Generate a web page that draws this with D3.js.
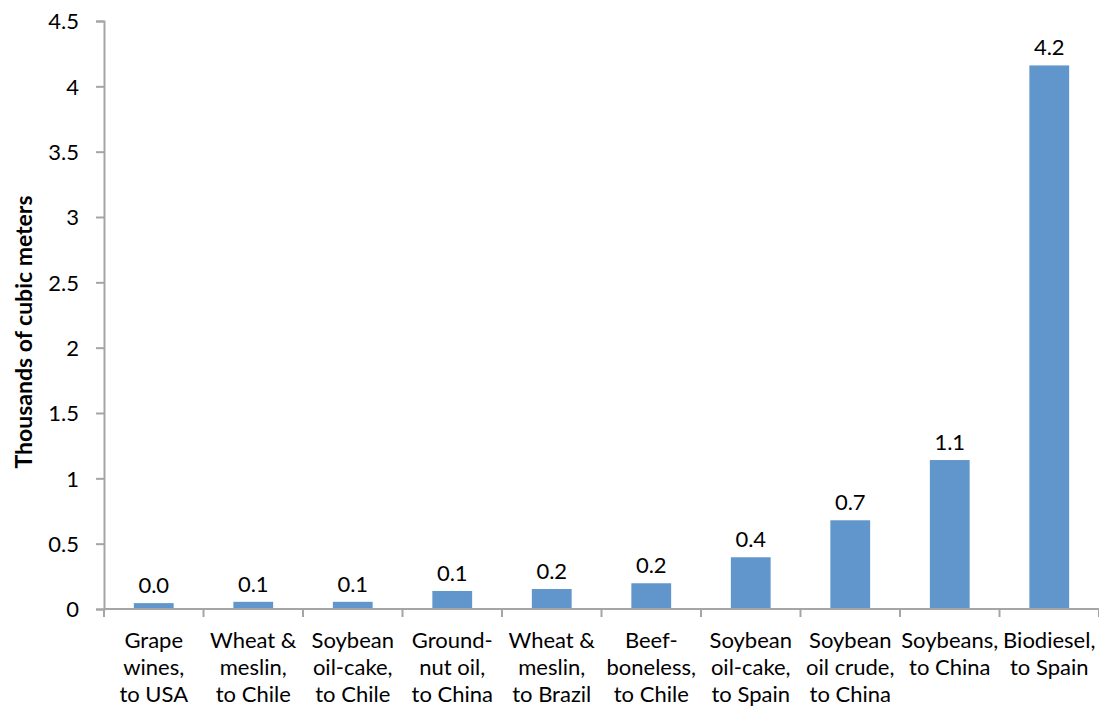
<!DOCTYPE html>
<html>
<head>
<meta charset="utf-8">
<script src="https://cdn.jsdelivr.net/npm/d3@7"></script>
<style>
  body { margin: 0; background: #fff; }
  text { font-family: Lato, "Open Sans", sans-serif; fill: #000; }
</style>
</head>
<body>
<div id="chart"></div>
<script>
// categories as shown under the bars (one entry per line)
var categories = [
  ['Grape', 'wines,', 'to USA'],
  ['Wheat &', 'meslin,', 'to Chile'],
  ['Soybean', 'oil-cake,', 'to Chile'],
  ['Ground-', 'nut oil,', 'to China'],
  ['Wheat &', 'meslin,', 'to Brazil'],
  ['Beef-', 'boneless,', 'to Chile'],
  ['Soybean', 'oil-cake,', 'to Spain'],
  ['Soybean', 'oil crude,', 'to China'],
  ['Soybeans,', 'to China'],
  ['Biodiesel,', 'to Spain']
];
var values = [0.045, 0.055, 0.055, 0.138, 0.153, 0.197, 0.396, 0.679, 1.14, 4.16];
var yTicks = [0, 0.5, 1, 1.5, 2, 2.5, 3, 3.5, 4, 4.5];
var yTitle = 'Thousands of cubic meters';

var width = 1099, height = 707;
var margin = {left: 104, right: 0, top: 21, bottom: 98};
var innerW = width - margin.left - margin.right;
var innerH = height - margin.top - margin.bottom;

var svg = d3.select('#chart').append('svg')
  .attr('width', width).attr('height', height);
var g = svg.append('g').attr('transform', 'translate(' + margin.left + ',' + margin.top + ')');

var idx = d3.range(values.length);
var xscale = d3.scaleBand().domain(idx).range([0, innerW]).paddingInner(0.6).paddingOuter(0.3);
var yscale = d3.scaleLinear().domain([0, 4.5]).range([innerH, 0]);
// boundaries between categories, for the x tick marks
var xb = d3.scaleLinear().domain([0, values.length]).range([0, innerW]);

var axisColor = '#a5a5a5';

// y axis
var yAxis = d3.axisLeft(yscale).tickValues(yTicks).tickSize(8).tickPadding(17)
  .tickFormat(function(d) { return d3.format('')(d); });
var ya = g.append('g').call(yAxis);
ya.select('.domain').attr('stroke', axisColor).attr('stroke-width', 2);
ya.selectAll('.tick line').attr('stroke', axisColor).attr('stroke-width', 2);
ya.selectAll('.tick text').style('font-size', '22px').attr('dy', '0.36em');

// bars
g.selectAll('rect.bar')
  .data(values)
  .enter()
  .append('rect')
  .attr('class', 'bar')
  .attr('x', function(d, i) { return xscale(i); })
  .attr('width', xscale.bandwidth())
  .attr('y', function(d) { return yscale(d); })
  .attr('height', function(d) { return innerH - yscale(d); })
  .style('fill', '#6096cb');

// value labels
g.selectAll('text.val')
  .data(values)
  .enter()
  .append('text')
  .attr('class', 'val')
  .attr('x', function(d, i) { return xscale(i) + xscale.bandwidth() / 2; })
  .attr('y', function(d) { return yscale(d) - 10; })
  .attr('text-anchor', 'middle')
  .style('font-size', '22px')
  .text(function(d) { return d3.format('.1f')(d); });

// x axis line and ticks
g.append('line')
  .attr('x1', 0).attr('x2', innerW)
  .attr('y1', innerH).attr('y2', innerH)
  .attr('stroke', axisColor).attr('stroke-width', 2);
g.selectAll('line.xtick')
  .data(d3.range(values.length + 1))
  .enter()
  .append('line')
  .attr('class', 'xtick')
  .attr('x1', function(d) { return xb(d); })
  .attr('x2', function(d) { return xb(d); })
  .attr('y1', innerH).attr('y2', innerH + 8)
  .attr('stroke', axisColor).attr('stroke-width', 2);

// category labels
var cat = g.selectAll('text.cat')
  .data(categories)
  .enter()
  .append('text')
  .attr('class', 'cat')
  .attr('text-anchor', 'middle')
  .style('font-size', '22px')
  .attr('transform', function(d, i) {
    return 'translate(' + (xscale(i) + xscale.bandwidth() / 2) + ',' + (innerH + 39) + ')';
  });
cat.selectAll('tspan')
  .data(function(d) { return d; })
  .enter()
  .append('tspan')
  .attr('x', 0)
  .attr('y', function(d, i) { return i * 27; })
  .text(function(d) { return d; });

// y title
svg.append('text')
  .attr('transform', 'translate(32,332) rotate(-90)')
  .attr('text-anchor', 'middle')
  .style('font-size', '23px')
  .style('font-weight', 'bold')
  .text(yTitle);
</script>
</body>
</html>
